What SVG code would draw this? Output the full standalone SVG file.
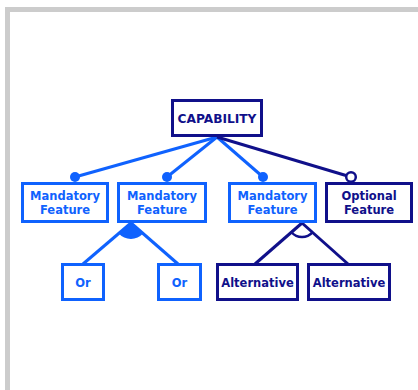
<svg xmlns="http://www.w3.org/2000/svg" width="418" height="390" viewBox="0 0 418 390">
<style>
.box{fill:#fff;stroke-width:3}
.b{stroke:#0f62fe}
.n{stroke:#10108a}
.t{font-family:"DejaVu Sans",sans-serif;font-weight:bold;font-size:11.5px;text-anchor:middle}
.tb{fill:#0f62fe}
.tn{fill:#10108a}
.ln{fill:none;stroke-width:3}
</style>
<rect width="418" height="390" fill="#fff"/>
<path d="M7.5,390 V9.5 H418" fill="none" stroke="#cccccc" stroke-width="5"/>
<g id="connectors">
<line class="ln b" x1="217" y1="137" x2="75" y2="177"/>
<line class="ln b" x1="217" y1="137" x2="167" y2="177"/>
<line class="ln b" x1="217" y1="137" x2="263" y2="177"/>
<line class="ln n" x1="217" y1="137" x2="351" y2="177"/>
<circle cx="75" cy="177" r="5" fill="#0f62fe"/>
<circle cx="167" cy="177" r="5" fill="#0f62fe"/>
<circle cx="263" cy="177" r="5" fill="#0f62fe"/>
<circle cx="351" cy="177" r="4.8" fill="#fff" stroke="#10108a" stroke-width="2.5"/>
<line class="ln b" x1="131" y1="223" x2="83" y2="264"/>
<line class="ln b" x1="131" y1="223" x2="178" y2="264"/>
<path d="M131,223 L118.8,233.4 A16,16 0 0 0 143,233.5 Z" fill="#0f62fe"/>
<line class="ln n" x1="302" y1="223" x2="255" y2="264"/>
<line class="ln n" x1="302" y1="223" x2="348" y2="264"/>
<path d="M291.5,232.2 A14,14 0 0 0 312.5,232.3" fill="none" stroke="#10108a" stroke-width="2.5"/>
</g>
<g id="capability">
<rect class="box n" x="172.5" y="100.5" width="89" height="35"/>
<text class="t tn" x="217" y="122.5" style="font-size:12.2px">CAPABILITY</text>
</g>
<g id="mandatory1">
<rect class="box b" x="22.5" y="183.5" width="85" height="38"/>
<text class="t tb" x="65" y="199.5">Mandatory</text>
<text class="t tb" x="65" y="214">Feature</text>
</g>
<g id="mandatory2">
<rect class="box b" x="118.5" y="183.5" width="87" height="38"/>
<text class="t tb" x="162" y="199.5">Mandatory</text>
<text class="t tb" x="162" y="214">Feature</text>
</g>
<g id="mandatory3">
<rect class="box b" x="229.5" y="183.5" width="86" height="38"/>
<text class="t tb" x="272.5" y="199.5">Mandatory</text>
<text class="t tb" x="272.5" y="214">Feature</text>
</g>
<g id="optional">
<rect class="box n" x="326.5" y="183.5" width="85" height="38"/>
<text class="t tn" x="369" y="199.5">Optional</text>
<text class="t tn" x="369" y="214">Feature</text>
</g>
<g id="or1">
<rect class="box b" x="62.5" y="264.5" width="41" height="35"/>
<text class="t tb" x="83" y="287">Or</text>
</g>
<g id="or2">
<rect class="box b" x="158.5" y="264.5" width="42" height="35"/>
<text class="t tb" x="179.5" y="287">Or</text>
</g>
<g id="alternative1">
<rect class="box n" x="217.5" y="264.5" width="80" height="35"/>
<text class="t tn" x="257.5" y="287">Alternative</text>
</g>
<g id="alternative2">
<rect class="box n" x="308.5" y="264.5" width="81" height="35"/>
<text class="t tn" x="349" y="287">Alternative</text>
</g>
</svg>
